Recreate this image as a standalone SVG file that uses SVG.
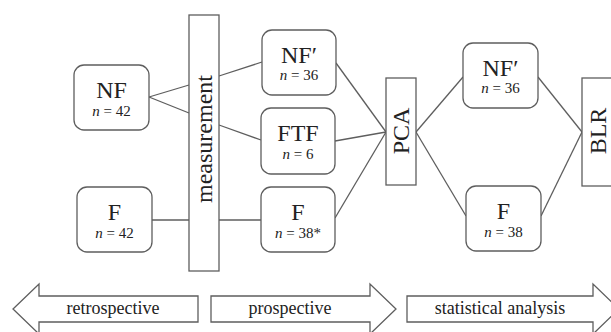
<svg xmlns="http://www.w3.org/2000/svg" width="611" height="332" viewBox="0 0 611 332">
<style>
.box{fill:#fff;stroke:#5e5e5e;stroke-width:1.3}
.bar{fill:#fff;stroke:#5e5e5e;stroke-width:1.3}
.ln{stroke:#5e5e5e;stroke-width:1.3;fill:none}
text{font-family:'Liberation Serif','Times New Roman',serif;fill:#222;text-anchor:middle}
.big{font-size:24px}
.n{font-size:15px}
.lbl{font-size:18px}
.it{font-style:italic}
</style>
<rect width="611" height="332" fill="#fff"/>
<g id="connectors">
<line class="ln" x1="149" y1="97" x2="189" y2="85"/>
<line class="ln" x1="149" y1="97" x2="189" y2="113"/>
<line class="ln" x1="152" y1="220" x2="189" y2="220"/>
<line class="ln" x1="219" y1="76" x2="262" y2="62"/>
<line class="ln" x1="219" y1="125" x2="261" y2="140"/>
<line class="ln" x1="219" y1="220" x2="261" y2="220"/>
<line class="ln" x1="336" y1="63" x2="386" y2="132"/>
<line class="ln" x1="335" y1="141" x2="386" y2="132"/>
<line class="ln" x1="335" y1="218" x2="386" y2="132"/>
<line class="ln" x1="416" y1="132" x2="463" y2="77"/>
<line class="ln" x1="416" y1="132" x2="466" y2="216"/>
<line class="ln" x1="538" y1="77" x2="582" y2="132"/>
<line class="ln" x1="541" y1="216" x2="582" y2="132"/>
</g>
<g id="nf">
<rect class="box" x="74" y="65" width="75" height="65" rx="10"/>
<text class="big" x="111.5" y="98">NF</text>
<text class="n" x="111.5" y="116"><tspan class="it">n</tspan> = 42</text>
</g>
<g id="f">
<rect class="box" x="77" y="187" width="75" height="65" rx="10"/>
<text class="big" x="114.5" y="220">F</text>
<text class="n" x="114.5" y="238"><tspan class="it">n</tspan> = 42</text>
</g>
<g id="measurement">
<rect class="bar" x="189" y="15" width="30" height="256"/>
<text class="big" transform="translate(212,139) rotate(-90)">measurement</text>
</g>
<g id="nf-prime">
<rect class="box" x="262" y="30" width="74" height="65" rx="10"/>
<text class="big" x="299" y="63">NF′</text>
<text class="n" x="299" y="80"><tspan class="it">n</tspan> = 36</text>
</g>
<g id="ftf">
<rect class="box" x="261" y="108" width="74" height="66" rx="10"/>
<text class="big" x="298" y="141">FTF</text>
<text class="n" x="298" y="159"><tspan class="it">n</tspan> = 6</text>
</g>
<g id="f-prosp">
<rect class="box" x="261" y="187" width="74" height="65" rx="10"/>
<text class="big" x="298" y="220">F</text>
<text class="n" x="298" y="238"><tspan class="it">n</tspan> = 38*</text>
</g>
<g id="pca">
<rect class="bar" x="386" y="78" width="30" height="107"/>
<text class="big" transform="translate(409,131) rotate(-90)">PCA</text>
</g>
<g id="nf-prime-2">
<rect class="box" x="463" y="43" width="75" height="65" rx="10"/>
<text class="big" x="500.5" y="76">NF′</text>
<text class="n" x="500.5" y="93"><tspan class="it">n</tspan> = 36</text>
</g>
<g id="f-2">
<rect class="box" x="466" y="186" width="75" height="65" rx="10"/>
<text class="big" x="503.5" y="219">F</text>
<text class="n" x="503.5" y="237"><tspan class="it">n</tspan> = 38</text>
</g>
<g id="blr">
<rect class="bar" x="582" y="78" width="31" height="108"/>
<text class="big" transform="translate(606,131) rotate(-90)">BLR</text>
</g>
<g id="retrospective">
<polygon class="box" points="198,296 39,296 39,284 13,309 39,334 39,322 198,322"/>
<text class="lbl" x="113" y="314">retrospective</text>
</g>
<g id="prospective">
<polygon class="box" points="211,296 370,296 370,284 396,309 370,334 370,322 211,322"/>
<text class="lbl" x="290" y="314">prospective</text>
</g>
<g id="statistical-analysis">
<polygon class="box" points="407,296 593,296 593,284 619,309 593,334 593,322 407,322"/>
<text class="lbl" x="500" y="314">statistical analysis</text>
</g>
</svg>
